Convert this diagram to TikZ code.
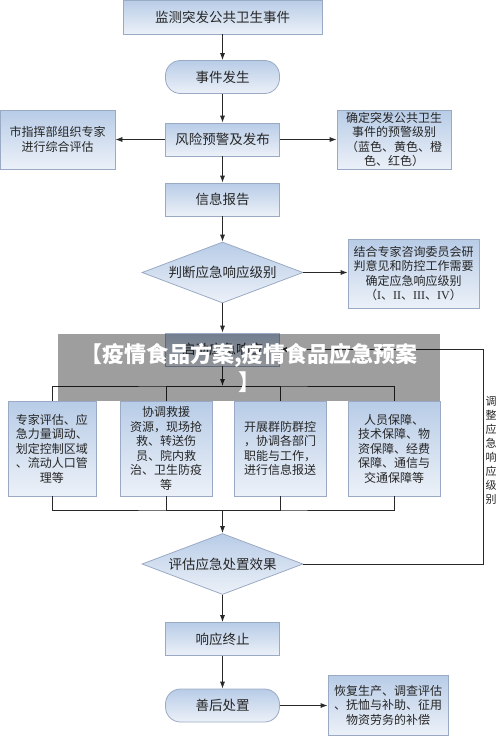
\documentclass[tikz,border=0pt]{standalone}
\usepackage{fontspec}
\setmainfont{Noto Sans CJK SC}
\newfontfamily\romfont{Liberation Serif}
\usetikzlibrary{shapes.geometric,arrows.meta}

\definecolor{boxtop}{RGB}{184,204,231}
\definecolor{boxbot}{RGB}{236,241,248}
\definecolor{boxline}{RGB}{155,170,196}
\definecolor{wire}{RGB}{40,40,40}

\tikzstyle{every node}=[text=black!85,inner sep=0pt,align=center]
\tikzstyle{stepbox}=[draw=boxline,line width=0.8pt,top color=boxtop,bottom color=boxbot,
  minimum width=114pt,minimum height=33pt,font=\fontsize{13.5}{16}\selectfont]
\tikzstyle{roundbox}=[stepbox,rounded corners=15pt]
\tikzstyle{sidebox}=[stepbox,font=\fontsize{12}{14.5}\selectfont]
\tikzstyle{decide}=[stepbox,diamond,aspect=2.6,minimum width=161pt,minimum height=61pt]
\tikzstyle{arr}=[draw=wire,line width=0.8pt,-{Latex[length=7pt,width=5pt]}]
\tikzstyle{wireline}=[draw=wire,line width=0.8pt]

\begin{document}
\begin{tikzpicture}[x=1pt,y=-1pt]
\useasboundingbox (0,0) rectangle (500,736);

% main column
\node[stepbox,minimum width=199pt,minimum height=34pt] (monitor) at (222.5,17) {监测突发公共卫生事件};
\node[roundbox] (occur) at (222.5,77) {事件发生};
\node[stepbox] (warn) at (222.5,139.5) {风险预警及发布};
\node[stepbox] (report) at (222.5,199.5) {信息报告};
\node[decide] (judge) at (222.5,272.5) {判断应急响应级别};
\node[stepbox] (start) at (222.5,349.5) {启动应急响应};
\node[decide] (assess) at (222.5,564) {评估应急处置效果};
\node[stepbox] (stop) at (222.5,639) {响应终止};
\node[roundbox] (after) at (222.5,705.5) {善后处置};

% side boxes
\node[sidebox,minimum width=115pt,minimum height=59pt] (expert) at (57.5,139.5)
  {市指挥部组织专家\\进行综合评估};
\node[sidebox,minimum width=114pt,minimum height=59pt] (grade) at (394,139.5)
  {确定突发公共卫生\\事件的预警级别\\（蓝色、黄色、橙\\色、红色）};
\node[sidebox,minimum width=131pt,minimum height=69pt] (level) at (413.5,273.5)
  {结合专家咨询委员会研\\判意见和防控工作需要\\确定应急响应级别\\（{\romfont I}、{\romfont II}、{\romfont III}、{\romfont IV}）};
\node[sidebox,minimum width=120pt,minimum height=60pt] (recover) at (388,705)
  {恢复生产、调查评估\\、抚恤与补助、征用\\物资劳务的补偿};

% response tasks
\tikzstyle{taskbox}=[sidebox,minimum width=90pt,minimum height=95pt]
\node[taskbox,minimum width=88pt] (b1) at (52,448.5)
  {专家评估、应\\急力量调动、\\划定控制区域\\、流动人口管\\理等};
\node[taskbox,minimum width=92pt] (b2) at (166,448.5)
  {协调救援\\资源，现场抢\\救、转送伤\\员、院内救\\治、卫生防疫\\等};
\node[taskbox,minimum width=92pt] (b3) at (280,448.5)
  {开展群防群控\\，协调各部门\\职能与工作，\\进行信息报送};
\node[taskbox,minimum width=92pt] (b4) at (394,448.5)
  {人员保障、\\技术保障、物\\资保障、经费\\保障、通信与\\交通保障等};

\coordinate (bus) at (222.5,386);
\coordinate (bus2) at (222.5,510);
\coordinate (back) at (483,564);

% connectors
\draw[arr] (monitor) -- (occur);
\draw[arr] (occur) -- (warn);
\draw[arr] (warn) -- (expert);
\draw[arr] (warn) -- (grade);
\draw[arr] (warn) -- (report);
\draw[arr] (report) -- (judge);
\draw[arr] (judge.east) -- (level.west |- judge.east);
\draw[arr] (judge) -- (start);
\draw[arr] (start) -- (bus);
\draw[wireline] (b1.north) |- (bus) -| (b4.north);
\foreach \b in {b2,b3} \draw[wireline] (\b.north) |- (bus);
\draw[wireline] (b1.south) |- (bus2) -| (b4.south);
\foreach \b in {b2,b3} \draw[wireline] (\b.south) |- (bus2);
\draw[arr] (bus2) -- (assess);
\draw[arr] (assess.east) -- (back) |- (start.east);
\node[font=\fontsize{11}{14}\selectfont] (adjust) at (491,450) {调\\整\\应\\急\\响\\应\\级\\别};
\draw[arr] (assess) -- (stop);
\draw[arr] (stop) -- (after);
\draw[arr] (after.east) -- (recover.west |- after.east);

% banner
\fill[black,opacity=0.38] (58,334) rectangle (440,401);
\node[text=white,font=\fontsize{22}{28}\selectfont\bfseries] (banner) at (249,368)
  {【疫情食品方案,疫情食品应急预案\\】};
\end{tikzpicture}
\end{document}
